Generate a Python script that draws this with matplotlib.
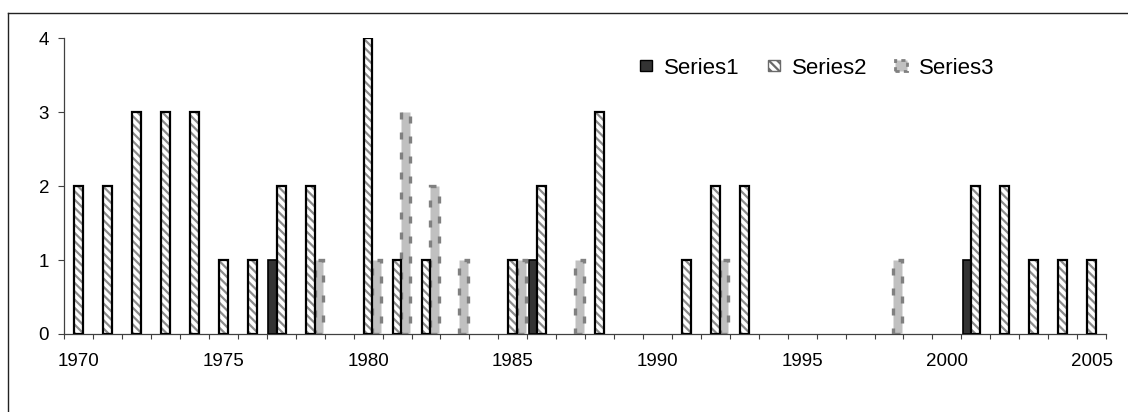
import matplotlib
matplotlib.use("Agg")
import matplotlib.pyplot as plt
from matplotlib.lines import Line2D
from matplotlib.patches import Patch
from matplotlib.ticker import FixedLocator
import numpy as np

years = [str(y) for y in range(1970, 2006)]
series1 = [0, 0, 0, 0, 0, 0, 0, 1, 0, 0, 0, 0, 0, 0, 0, 0, 1, 0,
           0, 0, 0, 0, 0, 0, 0, 0, 0, 0, 0, 0, 0, 1, 0, 0, 0, 0]
series2 = [2, 2, 3, 3, 3, 1, 1, 2, 2, 0, 4, 1, 1, 0, 0, 1, 2, 0,
           3, 0, 0, 1, 2, 2, 0, 0, 0, 0, 0, 0, 0, 2, 2, 1, 1, 1]
series3 = [0, 0, 0, 0, 0, 0, 0, 0, 1, 0, 1, 3, 2, 1, 0, 1, 0, 1,
           0, 0, 0, 0, 1, 0, 0, 0, 0, 0, 1, 0, 0, 0, 0, 0, 0, 0]
series_names = ["Series1", "Series2", "Series3"]
ytick_vals = [0, 1, 2, 3, 4]
label_years = ["1970", "1975", "1980", "1985", "1990", "1995", "2000", "2005"]

plt.rcParams['font.family'] = ['Liberation Sans', 'DejaVu Sans']
plt.rcParams['hatch.linewidth'] = 1.6

W, H = 1128, 412
fig = plt.figure(figsize=(W / 100, H / 100), dpi=100)
ax = fig.add_axes([64.3 / W, 1 - 334 / H, (1106 - 64.3) / W, (334 - 38.3) / H])

bw = 0.3


def nz(vals):
    idx = [i for i, v in enumerate(vals) if v > 0]
    return np.array(idx), np.array([vals[i] for i in idx])


# Series1
i1, v1 = nz(series1)
ax.bar(i1 - bw, v1, width=bw, color='#333333', edgecolor='black', linewidth=1.2, zorder=3)

# Series2 : hatched
i2, v2 = nz(series2)
ax.bar(i2, v2, width=bw, color='white', edgecolor='#8c8c8c', hatch='\\\\\\\\', linewidth=0, zorder=3)
ax.bar(i2, v2, width=bw, fill=False, edgecolor='black', linewidth=1.6, zorder=4)

# Series3 : light gray with dashed dark-gray border
i3, v3 = nz(series3)
ax.bar(i3 + bw, v3, width=bw, color='#c0c0c0', edgecolor='#808080', linewidth=2.4,
       linestyle=(0, (2.1, 3.9)), zorder=3)

ax.set_xlim(-0.5, len(years) - 0.5)
ax.set_ylim(0, 4)

# x ticks: labels at every 5th category, tick marks between categories
lab_pos = [years.index(y) for y in label_years]
ax.set_xticks(lab_pos)
ax.set_xticklabels(label_years)
ax.xaxis.set_minor_locator(FixedLocator(np.arange(-0.5, len(years), 1.0)))
ax.tick_params(axis='x', which='major', length=0, pad=14, labelsize=13.5)
ax.tick_params(axis='x', which='minor', length=3.8, width=0.8, color='#404040', direction='out')

ax.set_yticks(ytick_vals)
ax.tick_params(axis='y', which='major', length=4, width=0.8, color='#404040', pad=7, labelsize=13.5)

for s in ['top', 'right']:
    ax.spines[s].set_visible(False)
for s in ['left', 'bottom']:
    ax.spines[s].set_color('#404040')
    ax.spines[s].set_linewidth(0.9)

# legend
handles = [
    Patch(facecolor='#333333', edgecolor='black', linewidth=1.0),
    Patch(facecolor='white', edgecolor='#6a6a6a', hatch='\\\\\\\\', linewidth=1.0),
    Patch(facecolor='#c0c0c0', edgecolor='#808080', linewidth=2.0, linestyle=(0, (1.5, 1.5))),
]
leg = fig.legend(handles, series_names, loc='center left',
                 bbox_to_anchor=(640 / W, 1 - 68 / H), ncol=3, frameon=False,
                 fontsize=16, handlelength=0.54, handleheight=0.38,
                 handletextpad=0.54, columnspacing=1.26, borderpad=0, borderaxespad=0)

# chart area border (top and left visible)
fig.add_artist(Line2D([8 / W, 1.0], [1 - 12.7 / H, 1 - 12.7 / H], color='#222222',
                      linewidth=1.0, transform=fig.transFigure))
fig.add_artist(Line2D([8 / W, 8 / W], [0, 1 - 12.7 / H], color='#222222',
                      linewidth=1.0, transform=fig.transFigure))

fig.savefig("out.png", dpi=100)
